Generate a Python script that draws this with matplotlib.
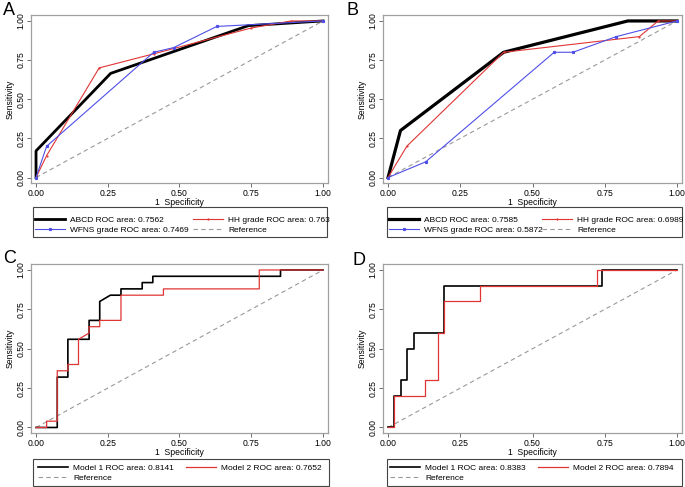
import matplotlib
matplotlib.use("Agg")
import matplotlib.pyplot as plt
from matplotlib.patches import Rectangle

plt.rcParams['font.family'] = ['Liberation Sans', 'DejaVu Sans']

# Panel A
a_abcd_x = [0, 0, 0.26, 0.74, 1]
a_abcd_y = [0, 0.17, 0.665, 0.97, 1]
a_hh_x = [0, 0.037, 0.22, 0.41, 0.75, 0.89, 1]
a_hh_y = [0, 0.14, 0.70, 0.79, 0.955, 1.0, 1]
a_wfns_x = [0, 0.037, 0.41, 0.48, 0.63, 1]
a_wfns_y = [0, 0.20, 0.80, 0.83, 0.965, 1]
a_labels = ["ABCD ROC area: 0.7562", "HH grade ROC area: 0.763",
            "WFNS grade ROC area: 0.7469", "Reference"]

# Panel B
b_abcd_x = [0, 0.043, 0.40, 0.83, 1]
b_abcd_y = [0, 0.30, 0.80, 1.0, 1]
b_hh_x = [0, 0.065, 0.40, 0.87, 0.935, 1]
b_hh_y = [0, 0.20, 0.80, 0.90, 1.0, 1]
b_wfns_x = [0, 0.13, 0.575, 0.64, 0.79, 1]
b_wfns_y = [0, 0.10, 0.80, 0.80, 0.90, 1]
b_labels = ["ABCD ROC area: 0.7585", "HH grade ROC area: 0.6989",
            "WFNS grade ROC area: 0.5872", "Reference"]

# Panel C
c_m1_x = [0, 0.074, 0.074, 0.111, 0.111, 0.185, 0.185, 0.222, 0.222, 0.259, 0.296,
          0.296, 0.370, 0.370, 0.407, 0.407, 0.852, 0.852, 1]
c_m1_y = [0, 0, 0.32, 0.32, 0.56, 0.56, 0.68, 0.68, 0.80, 0.84, 0.84,
          0.88, 0.88, 0.92, 0.92, 0.96, 0.96, 1.0, 1]
c_m2_x = [0, 0.037, 0.037, 0.074, 0.074, 0.111, 0.111, 0.148, 0.148, 0.185, 0.185,
          0.222, 0.222, 0.296, 0.296, 0.444, 0.444, 0.778, 0.778, 1]
c_m2_y = [0, 0, 0.04, 0.04, 0.36, 0.36, 0.40, 0.40, 0.56, 0.60, 0.64,
          0.64, 0.68, 0.68, 0.84, 0.84, 0.88, 0.88, 1.0, 1]
c_labels = ["Model 1 ROC area: 0.8141", "Model 2 ROC area: 0.7652", "Reference"]

# Panel D
d_m1_x = [0, 0.022, 0.022, 0.044, 0.044, 0.066, 0.066, 0.089, 0.089, 0.193, 0.193,
          0.742, 0.742, 1]
d_m1_y = [0, 0, 0.20, 0.20, 0.30, 0.30, 0.50, 0.50, 0.60, 0.60, 0.90,
          0.90, 1.0, 1]
d_m2_x = [0, 0.022, 0.022, 0.129, 0.129, 0.172, 0.172, 0.193, 0.193, 0.319, 0.319,
          0.722, 0.722, 1]
d_m2_y = [0, 0, 0.20, 0.20, 0.30, 0.30, 0.60, 0.60, 0.80, 0.80, 0.90,
          0.90, 1.0, 1]
d_labels = ["Model 1 ROC area: 0.8383", "Model 2 ROC area: 0.7894", "Reference"]

ticks = [0, 0.25, 0.5, 0.75, 1.0]
tick_labels = ["0.00", "0.25", "0.50", "0.75", "1.00"]

W, H = 685, 487
fig = plt.figure(figsize=(W / 100, H / 100), dpi=100)
FS = 6.2
LFS = 6.0


def px_axes(x0, y0, x1, y1):
    return fig.add_axes([x0 / W, 1 - y1 / H, (x1 - x0) / W, (y1 - y0) / H])


def style(ax):
    ax.set_xlim(-0.0175, 1.0175)
    ax.set_ylim(-0.035, 1.038)
    ax.set_xticks(ticks)
    ax.set_xticklabels(tick_labels)
    ax.set_yticks(ticks)
    ax.set_yticklabels(tick_labels, rotation=90, va='center')
    ax.tick_params(labelsize=FS, length=3, width=0.6, color='#555555', pad=1)
    for s in ax.spines.values():
        s.set_color('#a0a0a0')
        s.set_linewidth(0.9)
    ax.set_xlabel("1  Specificity", fontsize=FS, labelpad=0)
    ax.set_ylabel("Sensitivity", fontsize=FS, labelpad=1.5)


def legend(handles, labels, box, col1, col2, top):
    # box frame, then two single-column legends placed inside it
    x0, y0, x1, y1 = box
    fig.patches.append(Rectangle((x0 / W, 1 - y1 / H), (x1 - x0) / W, (y1 - y0) / H,
                                 transform=fig.transFigure, fill=False,
                                 edgecolor='#444444', lw=0.8))
    for x, idx in ((col1, range(0, len(handles), 2)), (col2, range(1, len(handles), 2))):
        idx = list(idx)
        fig.legend([handles[i] for i in idx], [labels[i] for i in idx],
                   loc='upper left', bbox_to_anchor=(x / W, 1 - top / H),
                   bbox_transform=fig.transFigure, fontsize=LFS, frameon=False,
                   handlelength=3.6, handletextpad=0.6, borderpad=0,
                   labelspacing=0.3, borderaxespad=0)


# A
ax = px_axes(31, 15, 328, 183)
ref, = ax.plot([0, 1], [0, 1], color='#999999', ls='--', lw=0.8, dashes=(4, 3))
h1, = ax.plot(a_abcd_x, a_abcd_y, color='black', lw=2.0)
h2, = ax.plot(a_hh_x, a_hh_y, color='#e03535', lw=0.8, marker='.', ms=1.2)
h3, = ax.plot(a_wfns_x, a_wfns_y, color='#4f4fe8', lw=0.8, marker='s', ms=1.3)
style(ax)
legend([h1, h2, h3, ref], a_labels, (33, 207, 327, 237), 35, 193, 216)
fig.text(3 / W, 1 - 2 / H, "A", fontsize=13, va='top', ha='left')

# B
ax = px_axes(383, 15, 682, 183)
ref, = ax.plot([0, 1], [0, 1], color='#999999', ls='--', lw=0.8, dashes=(4, 3))
h1, = ax.plot(b_abcd_x, b_abcd_y, color='black', lw=2.3)
h2, = ax.plot(b_hh_x, b_hh_y, color='#e03535', lw=0.8, marker='.', ms=1.2)
h3, = ax.plot(b_wfns_x, b_wfns_y, color='#4f4fe8', lw=0.8, marker='s', ms=1.3)
style(ax)
legend([h1, h2, h3, ref], b_labels, (387, 207, 682, 237), 389, 542, 216)
fig.text(347 / W, 1 - 2 / H, "B", fontsize=13, va='top', ha='left')

# C
ax = px_axes(31, 264, 328, 433)
ref, = ax.plot([0, 1], [0, 1], color='#999999', ls='--', lw=0.8, dashes=(4, 3))
h1, = ax.plot(c_m1_x, c_m1_y, color='black', lw=1.2)
h2, = ax.plot(c_m2_x, c_m2_y, color='#e03535', lw=0.9)
style(ax)
legend([h1, h2, ref], c_labels, (33, 459, 329, 486), 38, 186, 464)
fig.text(3 / W, 1 - 250 / H, "C", fontsize=13, va='top', ha='left')

# D
ax = px_axes(383, 264, 682, 433)
ref, = ax.plot([0, 1], [0, 1], color='#999999', ls='--', lw=0.8, dashes=(4, 3))
h1, = ax.plot(d_m1_x, d_m1_y, color='black', lw=1.2)
h2, = ax.plot(d_m2_x, d_m2_y, color='#e03535', lw=0.9)
style(ax)
legend([h1, h2, ref], d_labels, (387, 459, 682, 486), 390, 538, 464)
fig.text(352 / W, 1 - 252 / H, "D", fontsize=13, va='top', ha='left')

fig.savefig("out.png", dpi=100)
